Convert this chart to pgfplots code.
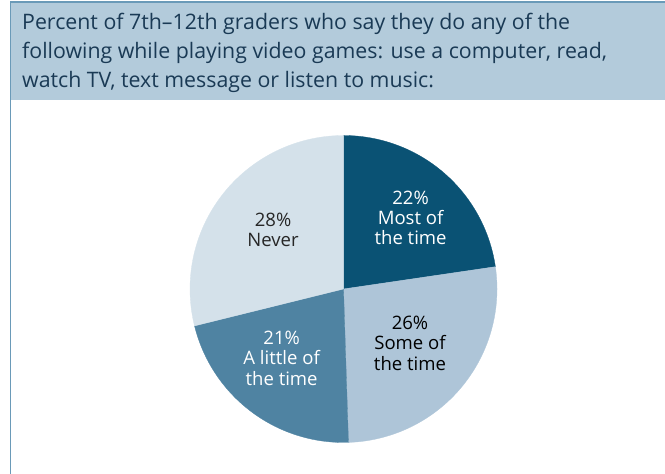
\documentclass[border=0pt]{standalone}
\usepackage{fontspec}
\setmainfont{Open Sans}
\usepackage{pgfplots}
\pgfplotsset{compat=1.18}
\definecolor{cMost}{HTML}{0A5274}
\definecolor{cSome}{HTML}{AEC5D8}
\definecolor{cLittle}{HTML}{4F83A2}
\definecolor{cNever}{HTML}{D4E1EA}
\definecolor{titlebg}{HTML}{B3CBDB}
\definecolor{frame}{HTML}{6A9AB8}
\definecolor{titletext}{HTML}{1A3A55}
% values (percent)
\def\vMost{22}
\def\vSome{26}
\def\vLittle{21}
\def\vNever{28}
\pgfmathsetmacro\tot{\vMost+\vSome+\vLittle+\vNever}
\pgfmathsetmacro\aA{90}
\pgfmathsetmacro\aB{\aA-360*\vMost/\tot}
\pgfmathsetmacro\aC{\aB-360*\vSome/\tot}
\pgfmathsetmacro\aD{\aC-360*\vLittle/\tot}
\pgfmathsetmacro\aE{\aD-360*\vNever/\tot}
\begin{document}
\begin{tikzpicture}[x=1bp,y=1bp]
\path[use as bounding box] (0,0) rectangle (665,474);
\fill[titlebg] (10.5,374) rectangle (665,472);
\draw[frame, line width=1.3bp] (10.5,0) -- (10.5,472) -- (665,472);
\begin{scope}[every node/.style={anchor=base west, inner sep=0, text=titletext, font=\fontsize{21.4}{29}\selectfont}]
\node at (22,444) {Percent of 7th–12th graders who say they do any of the};
\node at (22,415) {following while playing video games: use a computer, read,};
\node at (22,386) {watch TV, text message or listen to music:};
\end{scope}
\begin{axis}[
  at={(343.5bp,185bp)}, anchor=center,
  width=307bp, height=307bp, scale only axis,
  xmin=-1, xmax=1, ymin=-1, ymax=1,
  hide axis, clip=false,
]
\addplot[fill=cMost, draw=cMost, line width=0.3bp, domain=\aB:\aA, samples=90] ({cos(x)},{sin(x)}) -- (axis cs:0,0) -- cycle;
\addplot[fill=cSome, draw=cSome, line width=0.3bp, domain=\aC:\aB, samples=90] ({cos(x)},{sin(x)}) -- (axis cs:0,0) -- cycle;
\addplot[fill=cLittle, draw=cLittle, line width=0.3bp, domain=\aD:\aC, samples=90] ({cos(x)},{sin(x)}) -- (axis cs:0,0) -- cycle;
\addplot[fill=cNever, draw=cNever, line width=0.3bp, domain=\aE:\aD, samples=90] ({cos(x)},{sin(x)}) -- (axis cs:0,0) -- cycle;
\begin{scope}[every node/.style={align=center, inner sep=0, font=\fontsize{18.6}{20.5}\selectfont}]
\node[text=white] at (axis cs:0.437,0.463) {\vMost\%\\Most of\\the time};
\node[text=black] at (axis cs:0.433,-0.352) {\vSome\%\\Some of\\the time};
\node[text=white] at (axis cs:-0.403,-0.45) {\vLittle\%\\A little of\\the time};
\node[text=black!85] at (axis cs:-0.459,0.384) {\vNever\%\\Never};
\end{scope}
\end{axis}
\end{tikzpicture}
\end{document}
